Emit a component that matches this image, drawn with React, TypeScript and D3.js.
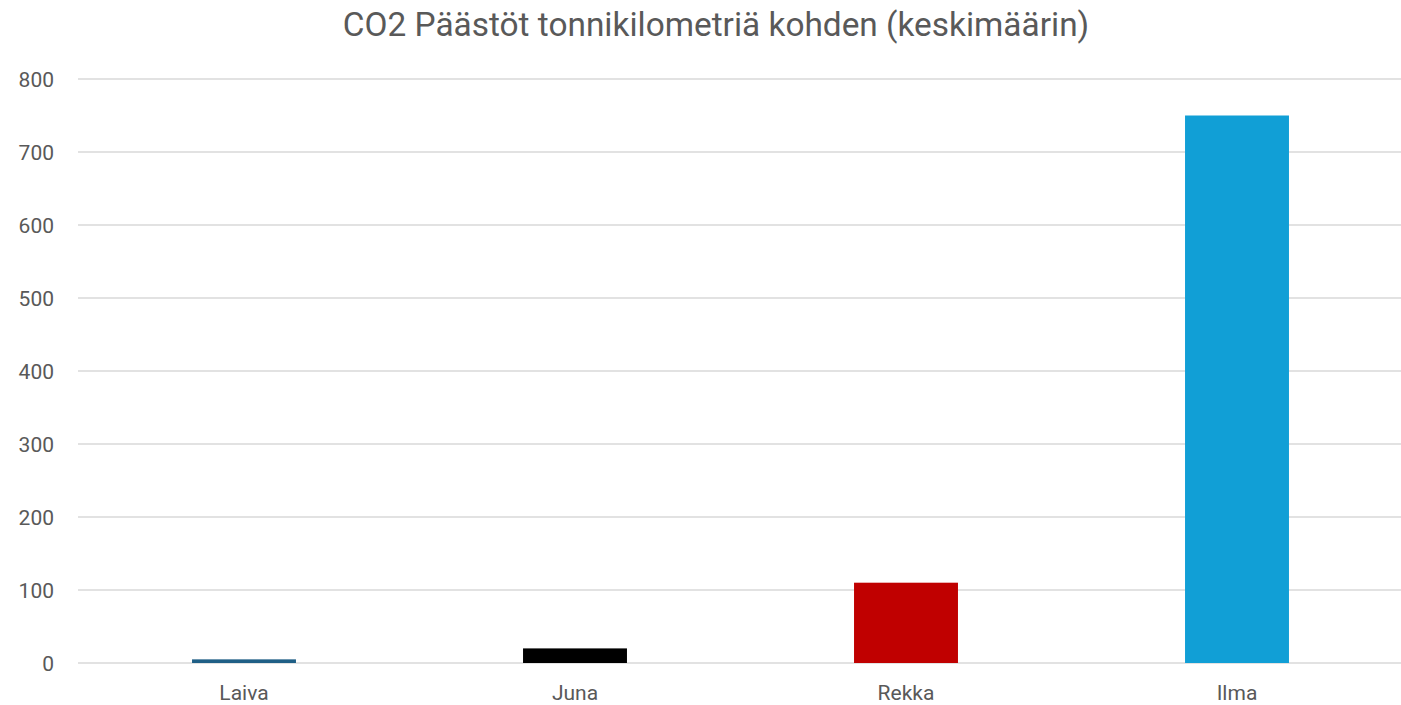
import React from "react";
import * as d3 from "d3";

const categories = ["Laiva", "Juna", "Rekka", "Ilma"];
const values = [5, 20, 110, 750];
const colors = ["#1f5f86", "#000000", "#c00000", "#119fd6"];
const yTicks = [0, 100, 200, 300, 400, 500, 600, 700, 800];
const title = "CO2 Päästöt tonnikilometriä kohden (keskimäärin)";

const W = 1401;
const H = 705;
const FONT = "Roboto, Open Sans, sans-serif";
const TEXT = "#595959";

export default function App() {
  const x = d3.scaleBand<string>().domain(categories).range([78.5, 1402.5]).paddingInner(0.686).paddingOuter(0.343);
  const y = d3.scaleLinear().domain([0, 800]).range([663, 79]);
  return (
    <svg width={W} height={H} style={{ position: "absolute", left: 0, top: 0, display: "block", background: "#fff" }}>
      <text x={716} y={36} textAnchor="middle" fontFamily={FONT} fontSize={33.4} fill={TEXT}>{title}</text>
      {yTicks.map((t) => (
        <g key={t}>
          <line x1={78} x2={1401} y1={y(t)} y2={y(t)} stroke="#d9d9d9" strokeWidth={1.5} />
          <text x={54} y={y(t) + 7.5} textAnchor="end" fontFamily={FONT} fontSize={21} fill={TEXT}>{t}</text>
        </g>
      ))}
      {categories.map((c, i) => (
        <g key={c}>
          <rect x={x(c)} y={y(values[i])} width={x.bandwidth()} height={y(0) - y(values[i])} fill={colors[i]} />
          <text x={(x(c) as number) + x.bandwidth() / 2} y={700} textAnchor="middle" fontFamily={FONT} fontSize={21} fill={TEXT}>{c}</text>
        </g>
      ))}
    </svg>
  );
}
